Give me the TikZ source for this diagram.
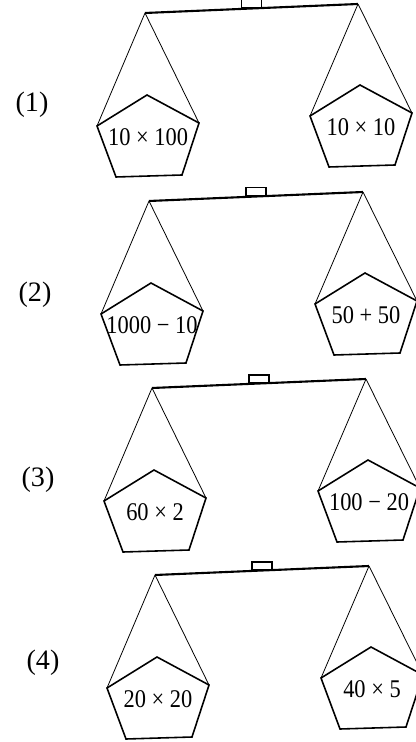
\documentclass[tikz,border=0pt]{standalone}
\usepackage{fontspec}
\setmainfont{Liberation Serif}
\usetikzlibrary{calc}

\begin{document}
\begin{tikzpicture}[x=0.2mm, y=-0.2mm,
  beam/.style={line width=1.2pt},
  rope/.style={line width=0.45pt},
  dish/.style={line width=0.9pt, line join=miter},
  pivot/.style={draw, fill=white, line width=0.8pt, minimum width=4mm, minimum height=1.6mm, inner sep=0pt, anchor=south},
  sum/.style={font=\fontsize{14.5}{16}\selectfont, inner sep=0pt, xscale=0.88, transform shape},
  tag/.style={font=\fontsize{16}{18}\selectfont, inner sep=0pt}]
  \useasboundingbox (0,0) rectangle (415,742);

  \foreach \i/\tx/\ty/\lx/\ly/\rx/\ry/\ls/\rs in {
      1/32/105/147/95/360/85/{10 × 100}/{10 × 10},
      2/35/295/151/283/365/273/{1000 − 10}/{50 + 50},
      3/38/480/154/470/368/460/{60 × 2}/{100 − 20},
      4/43/663/157/657/371/647/{20 × 20}/{40 × 5}}{
    % number of the question
    \node[tag] (t\i) at (\tx,\ty) {(\i)};
    % beam with its pivot
    \coordinate (b\i l) at ($(\lx,\ly)+(-2,-82)$);
    \coordinate (b\i r) at ($(\rx,\ry)+(-2,-81)$);
    \draw[beam] (b\i l) -- (b\i r);
    \node[pivot] (p\i) at ($(b\i l)!0.5!(b\i r)$) {};
    % the two pans
    \foreach \s/\x/\y/\t in {l/\lx/\ly/\ls, r/\rx/\ry/\rs}{
      \begin{scope}[shift={(\x,\y)}]
        \coordinate (\s\i a) at (0,0);
        \coordinate (\s\i b) at (-50,31);
        \coordinate (\s\i c) at (-31,82);
        \coordinate (\s\i d) at (35,80);
        \coordinate (\s\i e) at (52,28);
        \node[sum] (\s\i x) at (1,42) {\t};
      \end{scope}
      \draw[dish] (\s\i a) -- (\s\i b) -- (\s\i c) -- (\s\i d) -- (\s\i e) -- cycle;
      \draw[rope] (b\i\s) -- (\s\i b) (b\i\s) -- (\s\i e);
    }
  }
\end{tikzpicture}
\end{document}
